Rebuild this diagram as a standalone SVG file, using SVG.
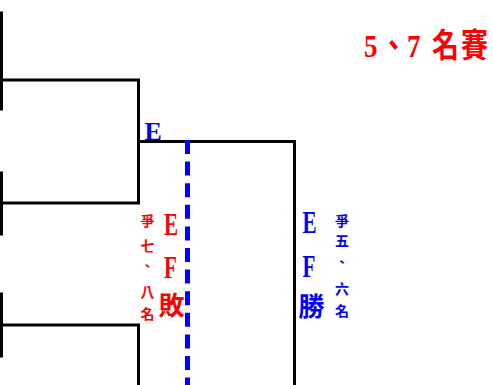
<svg xmlns="http://www.w3.org/2000/svg" width="493" height="385" viewBox="0 0 493 385">
<style>
.ln{stroke:#000;stroke-width:3;fill:none;stroke-linecap:square}
.dash{stroke:#0000FF;stroke-width:5;fill:none;stroke-dasharray:14 7.6}
.red{fill:#FF0000}
.blue{fill:#0000FF}
.ser{font-family:"Liberation Serif","Noto Sans CJK TC",serif;font-weight:bold}
.cjk{font-family:"Noto Sans CJK TC",sans-serif;font-weight:bold}
.sm{font-size:14px;text-anchor:middle}
.cm{font-size:13px;text-anchor:middle}
</style>
<rect width="493" height="385" fill="#fff"/>
<g id="connectors">
<path class="ln" d="M1.5 13V109M1.5 173V234M1.5 294V356"/>
<path class="ln" d="M3 80H138.5V203H3"/>
<path class="ln" d="M3 325H138.5V386"/>
<path class="ln" d="M138.5 141.5H294.5V386"/>
<path class="dash" d="M187.5 140V385"/>
</g>
<g id="title">
<text class="ser red" font-size="27" transform="translate(0,57) scale(1,1.2)" x="364 380 407 432 461" y="0">5、7名賽</text>
</g>
<g id="labelE">
<text class="ser blue" font-size="26" x="144.5" y="140">E</text>
</g>
<g id="loser">
<text class="ser red" font-size="32" transform="translate(164,235) scale(0.66,1)">E</text>
<text class="ser red" font-size="32" transform="translate(164,278) scale(0.66,1)">F</text>
<text class="cjk red" font-size="26" x="171.5" y="315" text-anchor="middle">敗</text>
<text class="cjk red sm" x="147.5" y="226">爭</text>
<text class="cjk red sm" x="147.5" y="251">七</text>
<text class="cjk red cm" x="147.5" y="270">、</text>
<text class="cjk red sm" x="147.5" y="297">八</text>
<text class="cjk red sm" x="147.5" y="319">名</text>
</g>
<g id="winner">
<text class="ser blue" font-size="32" transform="translate(302.5,233) scale(0.66,1)">E</text>
<text class="ser blue" font-size="32" transform="translate(302.5,277) scale(0.66,1)">F</text>
<text class="cjk blue" font-size="26" x="311.5" y="316" text-anchor="middle">勝</text>
<text class="cjk blue sm" x="342" y="225.5">爭</text>
<text class="cjk blue sm" x="342" y="246.3">五</text>
<text class="cjk blue cm" x="342" y="265.5">、</text>
<text class="cjk blue sm" x="342" y="294">六</text>
<text class="cjk blue sm" x="342" y="316">名</text>
</g>
</svg>
